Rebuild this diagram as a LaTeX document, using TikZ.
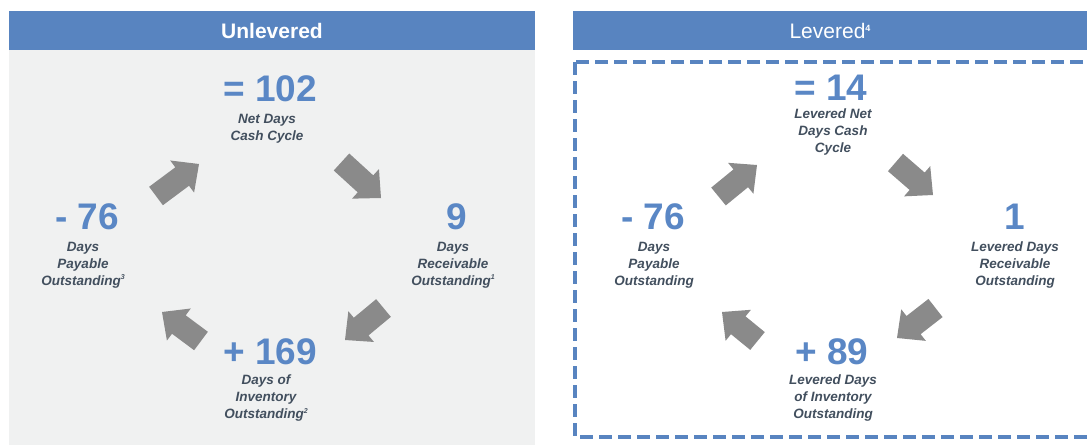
\documentclass[tikz,border=0pt]{standalone}
\usepackage{fontspec}
\setmainfont{Liberation Sans}
\usetikzlibrary{calc}
\definecolor{hdrblue}{HTML}{5884C0}
\definecolor{numblue}{HTML}{5A87C5}
\definecolor{panelgray}{HTML}{F0F1F1}
\definecolor{arrowgray}{HTML}{8A8A8A}
\definecolor{labeltext}{HTML}{424F5E}
\newcommand{\fnm}[1]{\raisebox{0.75ex}{\fontsize{7}{7}\selectfont #1}}
\tikzset{
  hdrbar/.style={fill=hdrblue, draw=none},
  hdrtext/.style={text=white, font=\fontsize{21}{24}\selectfont},
  bignum/.style={text=numblue, font=\fontsize{37}{40}\selectfont\bfseries, inner sep=0pt},
  lbl/.style={text=labeltext, font=\fontsize{13.5}{17}\selectfont\bfseries\itshape, align=center, inner sep=0pt},
  blockarrow/.style={fill=arrowgray, draw=none},
  dashbox/.style={draw=hdrblue, line width=4pt, dash pattern=on 13pt off 6pt},
}
% \barrow{tail}{tip}
\newcommand{\barrow}[2]{%
  \fill[blockarrow]
    ($(#1)!11.5pt!90:(#2)$) --
    ($($(#2)!21pt!(#1)$)!11.5pt!-90:(#1)$) --
    ($($(#2)!21pt!(#1)$)!20pt!-90:(#1)$) --
    (#2) --
    ($($(#2)!21pt!(#1)$)!20pt!90:(#1)$) --
    ($($(#2)!21pt!(#1)$)!11.5pt!90:(#1)$) --
    ($(#1)!11.5pt!-90:(#2)$) -- cycle;}
\begin{document}
\begin{tikzpicture}[x=1pt,y=-1pt]
\useasboundingbox (0,0) rectangle (1087,447);
\clip (0,0) rectangle (1087,447);
% Left panel
\fill[panelgray] (9,50) rectangle (535,445);
\fill[hdrbar] (9,11) rectangle (535,50);
\node[hdrtext, font=\fontsize{21}{24}\selectfont\bfseries] (hL) at (272,31) {Unlevered};
% Right panel
\fill[hdrbar] (573,11) rectangle (1087,50);
\node[hdrtext] (hR) at (830,31) {Levered\raisebox{0.62ex}{\fontsize{9}{9}\selectfont\bfseries 4}};
\draw[dashbox] (575,62) rectangle (1100,437);

% ---- Left diagram ----
\node[bignum] (lTop) at (270,89) {= 102};
\node[lbl] (lTopL) at (267,128.5) {Net Days\\Cash Cycle};
\node[bignum] (lLeft) at (87,217) {- 76};
\node[lbl] (lLeftL) at (83,265) {Days\\Payable\\Outstanding\fnm{3}};
\node[bignum] (lRight) at (457,217) {9};
\node[lbl] (lRightL) at (453,265) {Days\\Receivable\\Outstanding\fnm{1}};
\node[bignum] (lBot) at (270,352) {+ 169};
\node[lbl] (lBotL) at (266,398) {Days of\\Inventory\\Outstanding\fnm{2}};

\coordinate (la1t) at (156,196); \coordinate (la1h) at (199,164);
\coordinate (la2t) at (341.5,162); \coordinate (la2h) at (381,198);
\coordinate (la3t) at (383.5,308); \coordinate (la3h) at (345,340);
\coordinate (la4t) at (201,341); \coordinate (la4h) at (162,312);
\barrow{la1t}{la1h}
\barrow{la2t}{la2h}
\barrow{la3t}{la3h}
\barrow{la4t}{la4h}

% ---- Right diagram ----
\node[bignum] (rTop) at (831,88) {= 14};
\node[lbl] (rTopL) at (833,132) {Levered Net\\Days Cash\\Cycle};
\node[bignum] (rLeft) at (653,217) {- 76};
\node[lbl] (rLeftL) at (654,265) {Days\\Payable\\Outstanding};
\node[bignum] (rRight) at (1015,217) {1};
\node[lbl] (rRightL) at (1015,265) {Levered Days\\Receivable\\Outstanding};
\node[bignum] (rBot) at (832,352) {+ 89};
\node[lbl] (rBotL) at (833,398) {Levered Days\\of Inventory\\Outstanding};

\coordinate (ra1t) at (718.5,196.5); \coordinate (ra1h) at (757,165);
\coordinate (ra2t) at (895.5,162.5); \coordinate (ra2h) at (933,195);
\coordinate (ra3t) at (935.5,308); \coordinate (ra3h) at (897,338);
\coordinate (ra4t) at (757.5,341); \coordinate (ra4h) at (722,312);
\barrow{ra1t}{ra1h}
\barrow{ra2t}{ra2h}
\barrow{ra3t}{ra3h}
\barrow{ra4t}{ra4h}
\end{tikzpicture}
\end{document}
